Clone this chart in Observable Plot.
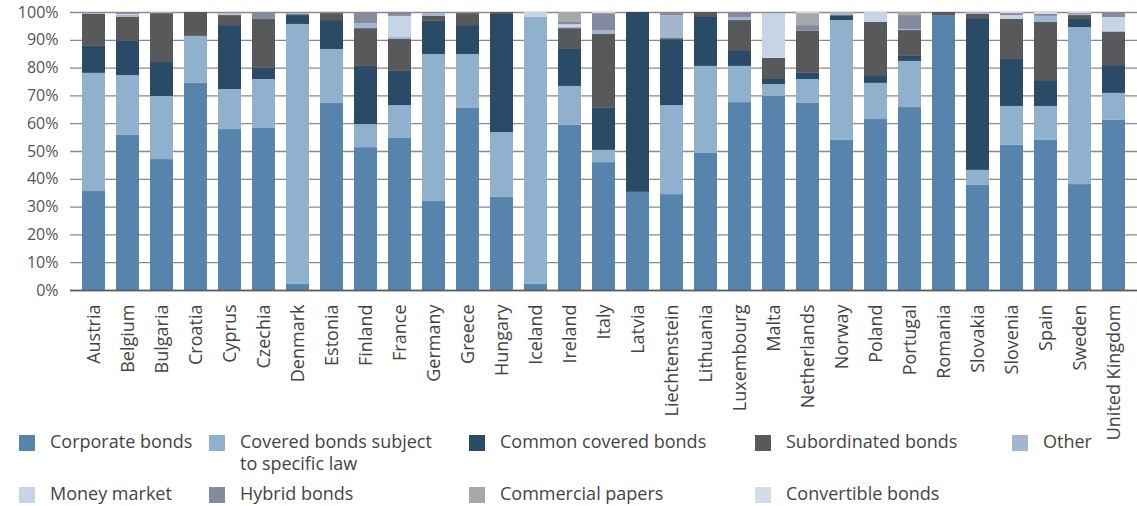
<!DOCTYPE html>
<html><head><meta charset="utf-8">
<script src="https://cdn.jsdelivr.net/npm/d3@7"></script>
<script src="https://cdn.jsdelivr.net/npm/@observablehq/plot@0.6"></script>
<style>
body{margin:0;background:#fff;font-family:"Open Sans",sans-serif;}
#wrap{position:relative;width:1137px;height:506px;overflow:hidden;}
.item{position:absolute;font-size:18px;line-height:22px;color:#444;white-space:nowrap;}
.sw{position:absolute;left:0;top:5px;width:16px;height:16px;}
.lbl{position:absolute;left:31px;top:0;}
</style></head><body>
<div id="wrap"><div id="chart"></div></div>
<script>
const countries = ["Austria","Belgium","Bulgaria","Croatia","Cyprus","Czechia","Denmark","Estonia","Finland","France","Germany","Greece","Hungary","Iceland","Ireland","Italy","Latvia","Liechtenstein","Lithuania","Luxembourg","Malta","Netherlands","Norway","Poland","Portugal","Romania","Slovakia","Slovenia","Spain","Sweden","United Kingdom"];
const seriesNames = ["Corporate bonds","Covered bonds subject to specific law","Common covered bonds","Subordinated bonds","Other","Money market","Hybrid bonds","Commercial papers","Convertible bonds"];
const seriesColors = ["#5784AC","#8FB1CD","#294B68","#58595B","#A3B6CF","#C5D5E6","#858B9F","#A7A8AA","#D3DDE8"];

const corporate   = [35.6,55.8,47.1,74.5,57.9,58.3, 2.2,67.3,51.4,54.7,32.0,65.5,33.5, 2.2,59.4,46.0,35.3,34.5,49.3,67.6,69.8,67.3,54.0,61.5,65.8,98.9,37.8,52.2,54.0,38.1,61.2];
const coveredLaw  = [42.5,21.5,22.7,16.9,14.4,17.6,93.5,19.4, 8.3,11.8,52.9,19.4,23.3,96.0,14.0, 4.4, 0.0,32.0,31.3,13.0, 4.3, 8.6,43.1,13.0,16.6, 0.0, 5.4,14.0,12.2,56.5, 9.7];
const common      = [ 9.7,12.3,12.2, 0.0,23.0, 4.0, 3.2,10.4,20.9,12.3,11.9,10.4,42.5, 0.0,13.3,15.1,64.7,23.4,17.6, 5.7, 1.8, 2.2, 1.5, 2.8, 1.8, 0.0,54.6,16.9, 9.3, 2.9,10.0];
const subordinated= [11.5, 8.7,17.6, 8.6, 3.6,17.6, 0.3, 2.5,13.6,11.5, 1.8, 4.3, 0.7, 0.0, 7.5,26.6, 0.0, 0.7, 1.8,10.8, 7.6,15.1, 0.3,19.1, 9.3, 1.1, 1.5,14.4,20.9, 1.4,11.9];
const other       = [ 0.3, 0.7, 0.4, 0.0, 0.3, 0.0, 0.4, 0.0, 1.8, 0.7, 1.0, 0.0, 0.0, 0.0, 0.6, 1.4, 0.0, 8.3, 0.0, 1.1, 0.0, 0.0, 1.1, 0.0, 0.4, 0.0, 0.7, 0.0, 2.2, 0.3, 0.4];
const moneyMarket = [ 0.0, 0.3, 0.0, 0.0, 0.3, 0.0, 0.0, 0.0, 0.0, 7.6, 0.0, 0.0, 0.0, 1.8, 0.8, 0.0, 0.0, 0.0, 0.0, 0.0,16.1, 0.0, 0.0, 3.6, 0.0, 0.0, 0.0, 1.4, 0.0, 0.0, 5.0];
const hybrid      = [ 0.4, 0.7, 0.0, 0.0, 0.5, 2.5, 0.4, 0.4, 4.0, 1.4, 0.4, 0.4, 0.0, 0.0, 0.8, 6.1, 0.0, 1.1, 0.0, 1.8, 0.4, 2.1, 0.0, 0.0, 5.0, 0.0, 0.0, 0.7, 0.7, 0.4, 1.8];
const commercial  = [ 0.0, 0.0, 0.0, 0.0, 0.0, 0.0, 0.0, 0.0, 0.0, 0.0, 0.0, 0.0, 0.0, 0.0, 3.6, 0.0, 0.0, 0.0, 0.0, 0.0, 0.0, 4.3, 0.0, 0.0, 1.1, 0.0, 0.0, 0.0, 0.0, 0.0, 0.0];
const convertible = [ 0.0, 0.0, 0.0, 0.0, 0.0, 0.0, 0.0, 0.0, 0.0, 0.0, 0.0, 0.0, 0.0, 0.0, 0.0, 0.4, 0.0, 0.0, 0.0, 0.0, 0.0, 0.4, 0.0, 0.0, 0.0, 0.0, 0.0, 0.4, 0.7, 0.4, 0.0];
const yTicks = [0,10,20,30,40,50,60,70,80,90,100];

const seriesValues = [corporate,coveredLaw,common,subordinated,other,moneyMarket,hybrid,commercial,convertible];
const data = [];
countries.forEach((c,i)=>{
  seriesNames.forEach((s,j)=>{
    data.push({country:c, series:s, value:seriesValues[j][i]});
  });
});

const chart = Plot.plot({
  width:1137, height:506,
  marginTop:12, marginBottom:216, marginLeft:70, marginRight:0,
  style:{fontFamily:"'Open Sans', sans-serif", color:"#555", background:"transparent"},
  x:{domain:countries, paddingInner:0.33, paddingOuter:0.165, label:null},
  y:{domain:[0,100], label:null},
  color:{domain:seriesNames, range:seriesColors},
  marks:[
    Plot.gridY(yTicks,{stroke:"#8a8a8a", strokeOpacity:1, strokeWidth:1.3}),
    Plot.barY(data,{x:"country", y:"value", fill:"series", order:seriesNames}),
    Plot.ruleY([0],{stroke:"#5a5a5a", strokeWidth:1.6}),
    Plot.axisY(yTicks,{tickSize:0, tickPadding:12, tickFormat:d=>d+"%", fontSize:16, fill:"#555", label:null}),
    Plot.axisX({tickSize:0, tickPadding:14, tickRotate:-90, fontSize:18, fill:"#444", label:null})
  ]
});
document.getElementById("chart").appendChild(chart);

const legendPos = [[19,430],[209,430],[469,430],[755,430],[1012,430],[19,482],[209,482],[469,482],[755,482]];
const legendText = ["Corporate bonds","Covered bonds subject<br>to specific law","Common covered bonds","Subordinated bonds","Other","Money market","Hybrid bonds","Commercial papers","Convertible bonds"];
const W = document.getElementById("wrap");
seriesNames.forEach((s,i)=>{
  const d = document.createElement("div");
  d.className="item";
  d.style.left = legendPos[i][0]+"px";
  d.style.top = legendPos[i][1]+"px";
  d.innerHTML = `<div class="sw" style="background:${seriesColors[i]}"></div><div class="lbl">${legendText[i]}</div>`;
  W.appendChild(d);
});
</script>
</body></html>
